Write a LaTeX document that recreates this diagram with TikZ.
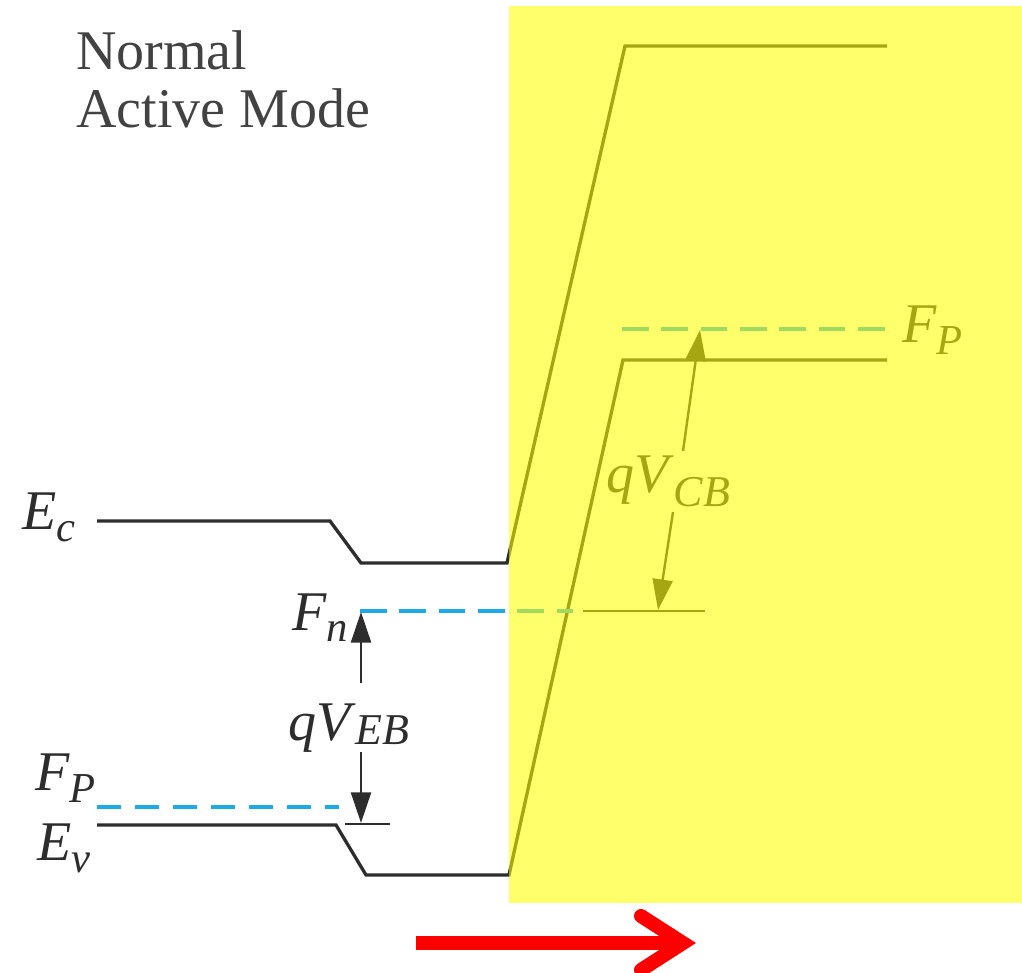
\documentclass[tikz,border=0pt]{standalone}
\usepackage{fontspec}
\setmainfont{Liberation Serif}
\usetikzlibrary{arrows.meta}
\definecolor{ink}{RGB}{45,45,45}
\definecolor{fermi}{RGB}{30,170,230}
\definecolor{hl}{RGB}{255,255,0}
\definecolor{redarrow}{RGB}{255,0,0}
\newcommand{\lbl}[3]{\textit{#1}\raisebox{#3}{\fontsize{32}{32}\selectfont\textit{#2}}}
\begin{document}
\begin{tikzpicture}[x=0.75pt,y=-0.75pt,
  band/.style={draw=ink,line width=2.5pt,line join=miter},
  fermidash/.style={draw=fermi,line width=2.7pt,dash pattern=on 20pt off 9.5pt},
  fermidashb/.style={draw=fermi,line width=2.7pt,dash pattern=on 18pt off 10.5pt},
  reflevel/.style={draw=ink,line width=1.6pt},
  volt/.style={draw=ink,line width=1.8pt,-{Triangle[length=23pt,width=15pt]}},
  lab/.style={text=ink,font=\fontsize{42}{50}\selectfont,inner sep=0pt,anchor=base west},
  title/.style={text=ink!90,font=\fontsize{42}{50}\selectfont,inner sep=0pt,anchor=base west},
  overlay/.style={fill=hl,fill opacity=0.58},
  bigarrow/.style={draw=redarrow,line width=10.5pt},
]
\useasboundingbox (0,0) rectangle (1022,973);

% title
\node[title] (t1) at (76,70) {Normal};
\node[title] (t2) at (76,128) {Active Mode};

% band edges
\coordinate (ec0) at (97,521);
\coordinate (ec1) at (330,521);
\coordinate (ec2) at (361,563);
\coordinate (ec3) at (507,563);
\coordinate (ec4) at (625,46);
\coordinate (ec5) at (887,46);
\draw[band] (ec0) -- (ec1) -- (ec2) -- (ec3) -- (ec4) -- (ec5);

\coordinate (ev0) at (97,825);
\coordinate (ev1) at (336,825);
\coordinate (ev2) at (366,875);
\coordinate (ev3) at (509,875);
\coordinate (ev4) at (623,360);
\coordinate (ev5) at (887,360);
\draw[band] (ev0) -- (ev1) -- (ev2) -- (ev3) -- (ev4) -- (ev5);

% quasi Fermi levels
\coordinate (fn0) at (360,611);
\coordinate (fn1) at (573,611);
\draw[fermidash] (fn0) -- (fn1);
\coordinate (fpl0) at (97,807);
\coordinate (fpl1) at (339,807);
\draw[fermidashb] (fpl0) -- (fpl1);
\coordinate (fpr0) at (622,329);
\coordinate (fpr1) at (887,329);
\draw[fermidash] (fpr0) -- (fpr1);

% reference levels
\coordinate (rb0) at (345,824);
\coordinate (rb1) at (390,824);
\draw[reflevel] (rb0) -- (rb1);
\coordinate (rc0) at (583,611);
\coordinate (rc1) at (705,611);
\draw[reflevel] (rc0) -- (rc1);

% voltage arrows
\coordinate (eba) at (361,683);
\coordinate (ebb) at (361,612);
\coordinate (ebc) at (361,752);
\coordinate (ebd) at (361,823);
\draw[volt] (eba) -- (ebb);
\draw[volt] (ebc) -- (ebd);
\coordinate (cba) at (683,451);
\coordinate (cbb) at (700,330);
\coordinate (cbc) at (673,512);
\coordinate (cbd) at (658,610);
\draw[volt] (cba) -- (cbb);
\draw[volt] (cbc) -- (cbd);

% labels
\node[lab] (lec) at (22,530) {\lbl{E}{c}{-9pt}};
\node[lab] (lfn) at (292,630) {\lbl{F}{n}{-9pt}};
\node[lab] (lfpl) at (35,790) {\lbl{F}{P}{-9pt}};
\node[lab] (lev) at (37,860) {\lbl{E}{v}{-9pt}};
\node[lab] (leb) at (288,740) {\textit{qV}\raisebox{-3pt}{\fontsize{33}{33}\selectfont\textit{EB}}};
\node[lab] (lcb) at (606,493) {\textit{qV}\raisebox{-10pt}{\fontsize{33}{33}\selectfont\textit{CB}}};
\node[lab] (lfpr) at (902,343) {\lbl{F}{P}{-9pt}};

% yellow highlight
\fill[overlay] (509,6) rectangle (1022,903);

% red direction arrow
\coordinate (ra0) at (416,943);
\coordinate (ra1) at (676,943);
\coordinate (rt) at (683,943);
\coordinate (rtu) at (641,916);
\coordinate (rtd) at (641,970);
\draw[bigarrow,line cap=butt] (ra0) -- (ra1);
\draw[bigarrow,line cap=round,line join=miter] (rtu) -- (rt) -- (rtd);
\end{tikzpicture}
\end{document}
